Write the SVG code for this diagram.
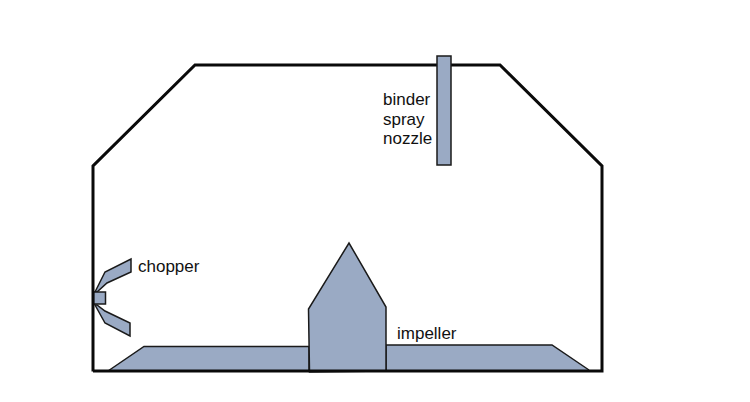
<svg xmlns="http://www.w3.org/2000/svg" width="750" height="402" viewBox="0 0 750 402">
<style>
.part{fill:#9aaac4;stroke:#1a1a1a;stroke-width:1.5;stroke-linejoin:miter}
.wall{fill:none;stroke:#0a0a0a;stroke-width:3;stroke-linejoin:miter}
text{font-family:"Liberation Sans",Arial,sans-serif;font-size:17px;fill:#111}
</style>
<rect width="750" height="402" fill="#fff"/>
<g id="impeller">
<path class="part" d="M108 371L144 346.500H309V371H386V345H552L589 370"/>
<path class="part" d="M309.500 372L308.500 309L349 243L386 307V371Z"/>
<text x="397" y="339">impeller</text>
</g>
<g id="chopper">
<path class="part" d="M95 292L105 272L131 259V272L107 283L97 292Z"/>
<path class="part" d="M95 305L105 323L130 336V323L105 311L97 305Z"/>
<rect class="part" x="93.500" y="292" width="12" height="12"/>
<text x="138" y="272">chopper</text>
</g>
<g id="connectors">
<path class="wall" d="M93 371.500V166L195 65H500L602 166V371H93"/>
</g>
<g id="binder-spray-nozzle">
<rect class="part" x="437" y="56" width="14" height="109"/>
<text x="383" y="105">binder</text>
<text x="383" y="125">spray</text>
<text x="383" y="144">nozzle</text>
</g>
</svg>
